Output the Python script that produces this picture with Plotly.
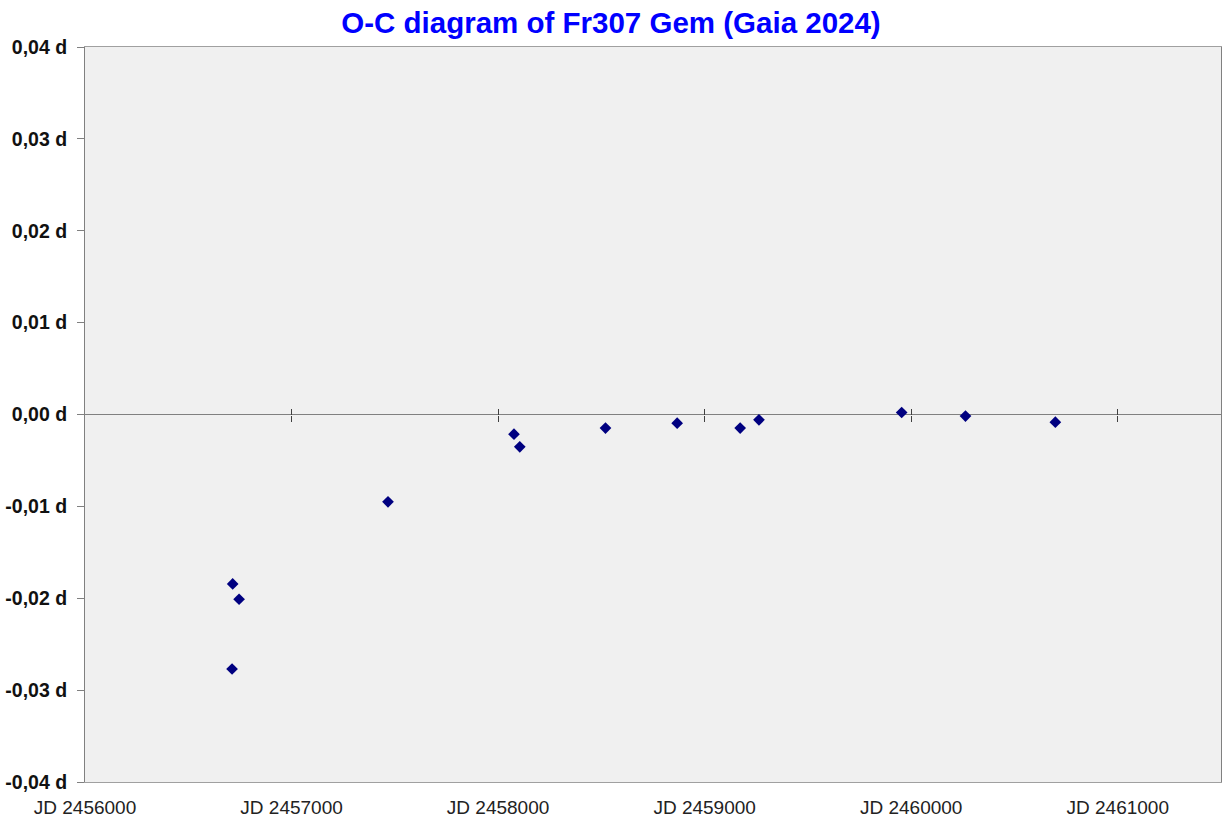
import plotly.graph_objects as go

jd = [2456715, 2456746, 2456712, 2457467, 2458077, 2458105, 2458520, 2458867,
      2459172, 2459263, 2459954, 2460263, 2460698]
oc = [-0.01844, -0.02011, -0.0277, -0.00951, -0.00214, -0.00352, -0.00148, -0.00094,
      -0.00148, -0.00058, 0.00022, -0.00017, -0.00083]

x_ticks = [2456000, 2457000, 2458000, 2459000, 2460000, 2461000]
x_ticktext = ["JD 2456000", "JD 2457000", "JD 2458000", "JD 2459000", "JD 2460000", "JD 2461000"]
y_ticks = [-0.04, -0.03, -0.02, -0.01, 0.0, 0.01, 0.02, 0.03, 0.04]
y_ticktext = ["-0,04 d", "-0,03 d", "-0,02 d", "-0,01 d", "0,00 d", "0,01 d", "0,02 d", "0,03 d", "0,04 d"]
title = "O-C diagram of Fr307 Gem (Gaia 2024)"

fig = go.Figure()
fig.add_trace(go.Scatter(x=jd, y=oc, mode="markers",
                         marker=dict(symbol="diamond", size=9, color="#000080"),
                         showlegend=False, hoverinfo="x+y"))
# invisible traces to register the tick axes crossing at zero
fig.add_trace(go.Scatter(x=[x_ticks[0]], y=[0], xaxis="x2", mode="markers",
                         marker=dict(opacity=0), showlegend=False, hoverinfo="skip"))
fig.add_trace(go.Scatter(x=[x_ticks[0]], y=[0], xaxis="x3", mode="markers",
                         marker=dict(opacity=0), showlegend=False, hoverinfo="skip"))

font = "Liberation Sans, Arial, sans-serif"
fig.update_layout(
    width=1222, height=819,
    margin=dict(l=85, r=1, t=47, b=37, autoexpand=False),
    paper_bgcolor="white", plot_bgcolor="#f0f0f0",
    title=dict(text=title, x=0.5, xanchor="center", y=0.972, yanchor="middle",
               font=dict(family=font, size=29.5, color="#0000ff", weight="bold")),
    xaxis=dict(range=[2456000, 2461500], tickvals=x_ticks, ticktext=x_ticktext,
               ticks="", showgrid=False, zeroline=False, showline=True,
               linecolor="#a0a0a0", linewidth=1, mirror=True, automargin=False,
               tickfont=dict(family=font, size=19, color="#222222"),
               ticklabelstandoff=8),
    xaxis2=dict(overlaying="x", matches="x", anchor="free", position=0.5,
                tickvals=x_ticks[1:], ticks="outside", ticklen=6, tickcolor="#404040",
                showticklabels=False, showgrid=False, zeroline=False, showline=False),
    xaxis3=dict(overlaying="x", matches="x", anchor="free", position=0.5,
                tickvals=x_ticks[1:], ticks="inside", ticklen=6, tickcolor="#404040",
                showticklabels=False, showgrid=False, zeroline=False, showline=False),
    yaxis=dict(range=[-0.04, 0.04], tickvals=y_ticks, ticktext=y_ticktext,
               ticks="outside", ticklen=7, tickcolor="#808080",
               showgrid=False, zeroline=True, zerolinecolor="#808080", zerolinewidth=1,
               showline=True, linecolor="#808080", linewidth=1, mirror=True,
               automargin=False,
               tickfont=dict(family=font, size=19.5, color="#111111", weight="bold"),
               ticklabelstandoff=6),
)

fig.write_html("out.html", config={"displayModeBar": False},
               post_script="document.body.style.margin='0';")
